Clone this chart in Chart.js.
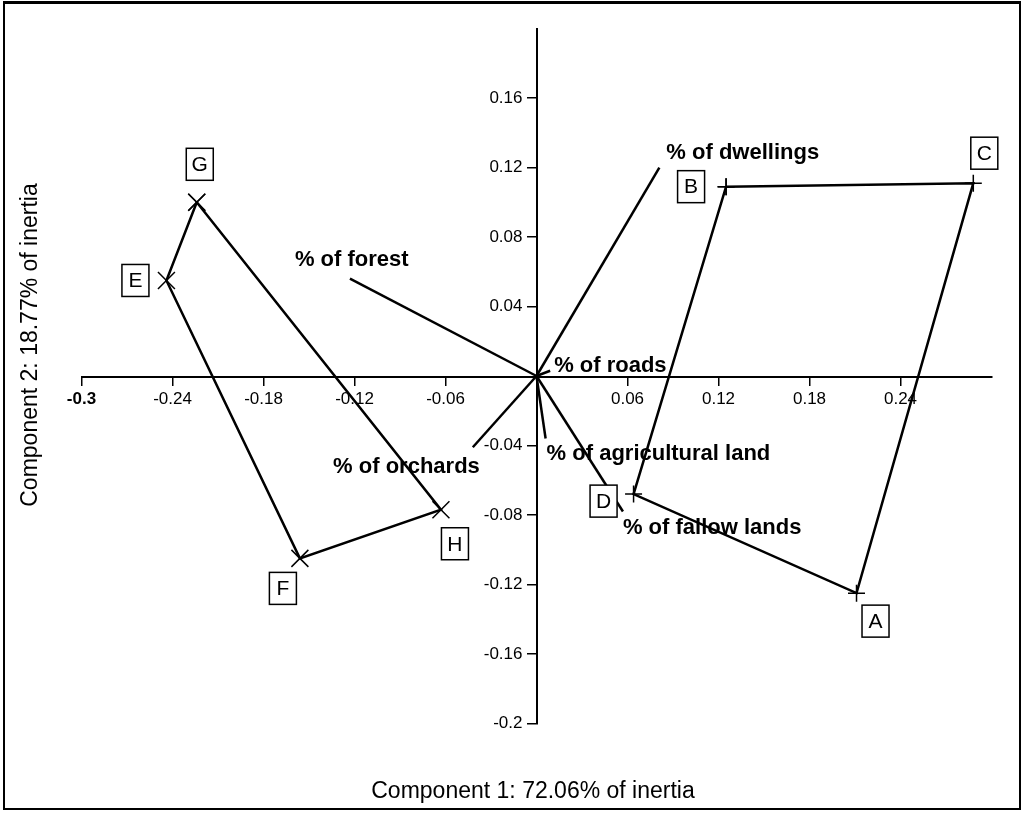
<!DOCTYPE html>
<html>
<head>
<meta charset="utf-8">
<script src="https://cdn.jsdelivr.net/npm/chart.js@4.4.0/dist/chart.umd.min.js"></script>
<style>
  html, body { margin: 0; padding: 0; background: #fff; }
  #wrap { position: relative; width: 1023px; height: 813px; }
  #frame { position: absolute; left: 3px; top: 1px; width: 1014px; height: 804px;
           border: 2px solid #000; border-top-width: 3px; pointer-events: none; }
</style>
</head>
<body>
<div id="wrap">
  <canvas id="biplot" width="1023" height="813"></canvas>
  <div id="frame"></div>
</div>
<script>
// sample scores (component 1, component 2)
const sampleNames = ['A', 'B', 'C', 'D', 'E', 'F', 'G', 'H'];
const sampleX = [0.211, 0.125, 0.288, 0.064, -0.244, -0.156, -0.224, -0.063];
const sampleY = [-0.125, 0.109, 0.111, -0.068, 0.055, -0.105, 0.100, -0.077];

// polygons joining the samples
const rightGroup = ['B', 'C', 'A', 'D', 'B'];
const leftGroup = ['G', 'E', 'F', 'H', 'G'];

// variable vectors
const variableNames = ['% of forest', '% of dwellings', '% of roads',
  '% of agricultural land', '% of fallow lands', '% of orchards'];
const variableX = [-0.123, 0.081, 0.009, 0.006, 0.057, -0.042];
const variableY = [0.056, 0.120, 0.003, -0.036, -0.078, -0.041];

const xTickValues = [-0.3, -0.24, -0.18, -0.12, -0.06, 0.06, 0.12, 0.18, 0.24];
const yTickValues = [-0.2, -0.16, -0.12, -0.08, -0.04, 0.04, 0.08, 0.12, 0.16];

const xTitle = 'Component 1: 72.06% of inertia';
const yTitle = 'Component 2: 18.77% of inertia';

const FONT = '"Liberation Sans", Arial, sans-serif';

function groupPoints(names) {
  return names.map(n => {
    const i = sampleNames.indexOf(n);
    return { x: sampleX[i], y: sampleY[i] };
  });
}

// where the little boxed letters sit relative to their point (px)
const boxOffset = { A: [19, 28], B: [-35, 0], C: [11, -30], D: [-30, 7],
                    E: [-31, 0], F: [-17, 30], G: [3, -38], H: [14, 34] };
// variable label placement relative to arrow tip: dx, dy, align
const varLabelPlace = [[-55, -19, 'left'], [7, -15, 'left'], [4, -5, 'left'],
                       [1, 15, 'left'], [0, 16, 'left'], [7, 20, 'right']];

const datasets = [];
variableNames.forEach((name, i) => {
  datasets.push({
    label: name,
    data: [{ x: 0, y: 0 }, { x: variableX[i], y: variableY[i] }],
    showLine: true,
    borderColor: '#000',
    borderWidth: 2.5,
    pointRadius: 0
  });
});
datasets.push({
  label: 'right',
  data: groupPoints(rightGroup),
  showLine: true,
  borderColor: '#000',
  borderWidth: 2.5,
  pointStyle: 'cross',
  pointRadius: 8.5,
  pointBorderWidth: 1.5,
  pointBorderColor: '#000'
});
datasets.push({
  label: 'left',
  data: groupPoints(leftGroup),
  showLine: true,
  borderColor: '#000',
  borderWidth: 2.5,
  pointStyle: 'crossRot',
  pointRadius: 12,
  pointBorderWidth: 1.5,
  pointBorderColor: '#000'
});

const biplotText = {
  id: 'biplotText',
  beforeDatasetsDraw(chart) {
    const { ctx, scales: { x, y } } = chart;
    ctx.save();
    ctx.fillStyle = '#000';
    ctx.font = 'bold 22px ' + FONT;
    ctx.textBaseline = 'middle';
    variableNames.forEach((name, i) => {
      const p = varLabelPlace[i];
      ctx.textAlign = p[2];
      ctx.fillText(name, x.getPixelForValue(variableX[i]) + p[0], y.getPixelForValue(variableY[i]) + p[1]);
    });
    ctx.restore();
  },
  afterDatasetsDraw(chart) {
    const { ctx, scales: { x, y } } = chart;
    ctx.save();
    ctx.font = '21px ' + FONT;
    ctx.textAlign = 'center';
    ctx.textBaseline = 'middle';
    sampleNames.forEach((name, i) => {
      const off = boxOffset[name];
      const cx = x.getPixelForValue(sampleX[i]) + off[0];
      const cy = y.getPixelForValue(sampleY[i]) + off[1];
      ctx.fillStyle = '#fff';
      ctx.fillRect(cx - 13.5, cy - 16, 27, 32);
      ctx.lineWidth = 1.5;
      ctx.strokeStyle = '#000';
      ctx.strokeRect(cx - 13.5, cy - 16, 27, 32);
      ctx.fillStyle = '#000';
      ctx.fillText(name, cx, cy + 1);
    });

    // axis titles
    ctx.font = '23px ' + FONT;
    ctx.fillText(xTitle, 533, 792);
    ctx.translate(31, 345);
    ctx.rotate(-Math.PI / 2);
    ctx.fillText(yTitle, 0, 0);
    ctx.restore();
  }
};

// both ranges are symmetric, so 'center' puts each axis through the origin
new Chart(document.getElementById('biplot'), {
  type: 'scatter',
  data: { datasets },
  options: {
    responsive: false,
    animation: false,
    layout: { padding: { left: 81.5, right: 31.5, top: 28.6, bottom: 89.6 } },
    plugins: { legend: { display: false }, tooltip: { enabled: false } },
    scales: {
      x: {
        type: 'linear',
        min: -0.3,
        max: 0.3,
        position: 'center',
        afterBuildTicks: axis => { axis.ticks = xTickValues.map(v => ({ value: v })); },
        border: { color: '#000', width: 2 },
        grid: { drawOnChartArea: false, drawTicks: true, tickLength: 8, color: '#000', lineWidth: 1.5 },
        ticks: {
          color: '#000',
          padding: 5,
          maxRotation: 0,
          autoSkip: false,
          callback: v => String(v),
          font: c => ({ family: FONT, size: 17, weight: c.tick && c.tick.value === -0.3 ? 'bold' : 'normal' })
        }
      },
      y: {
        type: 'linear',
        min: -0.2,
        max: 0.2,
        position: 'center',
        afterBuildTicks: axis => { axis.ticks = yTickValues.map(v => ({ value: v })); },
        border: { color: '#000', width: 2 },
        grid: { drawOnChartArea: false, drawTicks: true, tickLength: 9, color: '#000', lineWidth: 1.5 },
        ticks: {
          color: '#000',
          padding: 5,
          autoSkip: false,
          callback: v => String(v),
          font: { family: FONT, size: 17 }
        }
      }
    }
  },
  plugins: [biplotText]
});
</script>
</body>
</html>
